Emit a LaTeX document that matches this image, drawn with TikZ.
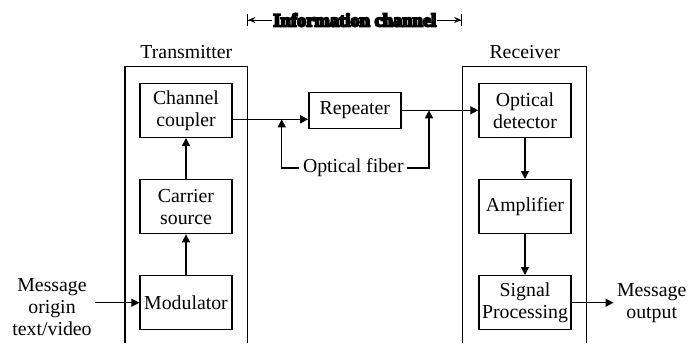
\documentclass[tikz,border=0pt]{standalone}
\usepackage{fontspec}
\setmainfont{Liberation Serif}
\newfontfamily\headfont{Liberation Serif}[FakeBold=10]
\usetikzlibrary{arrows.meta}

\tikzset{
  block/.style={draw, line width=1.4pt, minimum width=92pt, minimum height=54pt, inner sep=2pt, align=center},
  sig/.style={line width=1.4pt, -{Triangle[length=8pt,width=8pt]}},
}

\begin{document}
\begin{tikzpicture}[x=1pt,y=-1pt,font=\fontsize{19.8}{22}\selectfont]
\useasboundingbox (0,0) rectangle (696,343);
% open enclosures for both ends
\draw[line width=1.4pt] (125,343) |- (247.7,66.7) -- (247.7,343);
\draw[line width=1.4pt] (462.7,343) |- (586.7,66.7) -- (586.7,343);
\node (tx) at (186.3,51.7) {Transmitter};
\node (rx) at (524.7,51.7) {Receiver};
% transmitter chain
\node[block] (coupler) at (186,110.3) {Channel\\coupler};
\node[block] (carrier) at (186,206.7) {Carrier\\source};
\node[block] (modulator) at (186,302.7) {Modulator};
% receiver chain
\node[block] (detector) at (525,110.3) {Optical\\detector};
\node[block] (amplifier) at (525,206.7) {Amplifier};
\node[block] (processing) at (525,302.7) {Signal\\Processing};
% channel
\node[block,minimum height=36pt] (repeater) at (354.8,110.3) {Repeater};
\node (fiber) at (353.3,168) {Optical fiber};
\coordinate (tapL) at (281.7,119.3);
\coordinate (tapR) at (429,110.3);
\node[align=center] (origin) at (52,307) {Message\\origin\\text/video};
\node[align=center] (output) at (651.7,302.7) {Message\\output};

\draw[sig] (origin.east |- modulator.west) -- (modulator.west);
\draw[sig] (modulator) -- (carrier);
\draw[sig] (carrier) -- (coupler);
\draw[sig] ([yshift=-9pt]coupler.east) -- ([yshift=-9pt]repeater.west);
\draw[sig] (repeater) -- (detector);
\draw[sig] (detector) -- (amplifier);
\draw[sig] (amplifier) -- (processing);
\draw[sig] (processing) -- (output.west |- processing.east);
\draw[sig] (fiber.west) -| (tapL);
\draw[sig] (fiber.east) -| (tapR);

% span of the channel
\coordinate (chanL) at (247.3,20);
\coordinate (chanR) at (462.3,20);
\draw[line width=1pt, {Bar[width=12pt]Stealth[length=7pt,width=6pt]}-{Stealth[length=7pt,width=6pt]Bar[width=12pt]}] (chanL) -- (chanR);
\node[fill=white, inner sep=1pt, font=\headfont\bfseries\fontsize{18.5}{20}\selectfont] (chan) at (354.8,20) {Information channel};
\end{tikzpicture}
\end{document}
